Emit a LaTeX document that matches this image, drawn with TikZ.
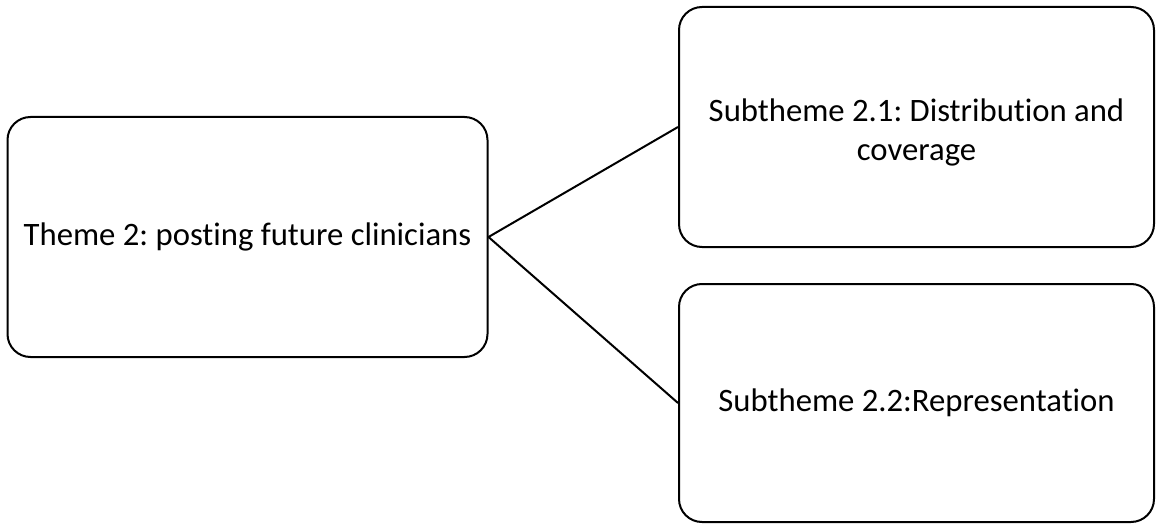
\documentclass[tikz,border=0pt]{standalone}
\usepackage{fontspec}
\setmainfont{Carlito}[Ligatures=NoCommon]
\frenchspacing
\begin{document}
\begin{tikzpicture}[x=1pt,y=-1pt,
  themebox/.style={draw=black, line width=2pt, rounded corners=23pt, fill=white,
    align=center, inner sep=0pt, font=\fontsize{32.7pt}{40pt}\selectfont},
  link/.style={draw=black, line width=2pt}]
\useasboundingbox[fill=white] (0,0) rectangle (1156,524);
\node[themebox, minimum width=480pt, minimum height=240pt] (main) at (247.5,237) {Theme 2: posting future clinicians};
\node[themebox, minimum width=475pt, minimum height=240pt] (s1) at (916.5,127) {\raisebox{-6pt}[\height][\depth]{\begin{tabular}{@{}c@{}}Subtheme 2.1: Distribution and\\[-1pt]coverage\end{tabular}}};
\node[themebox, minimum width=475pt, minimum height=238pt] (s2) at (916.5,403) {Subtheme 2.2:Representation};
\draw[link] (main.east) -- (s1.west);
\draw[link] (main.east) -- (s2.west);
\end{tikzpicture}
\end{document}
